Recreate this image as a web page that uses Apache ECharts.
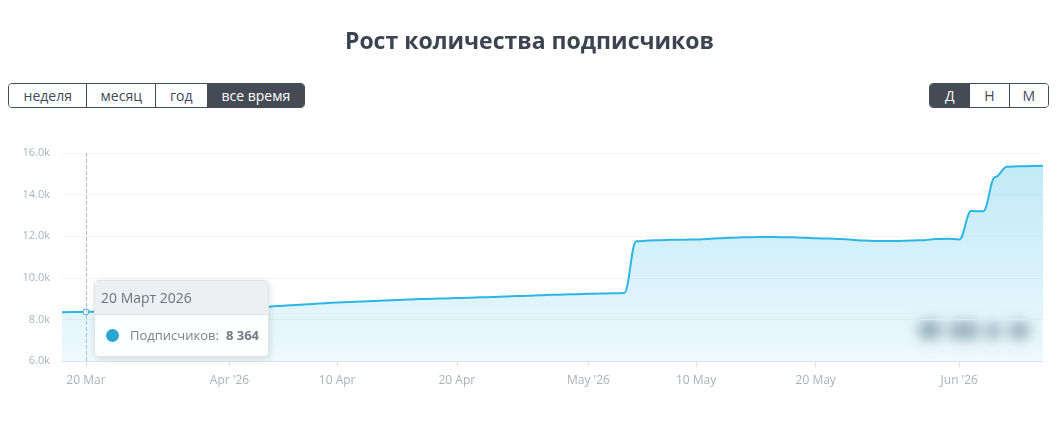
<!DOCTYPE html>
<html>
<head>
<meta charset="utf-8">
<script src="https://cdn.jsdelivr.net/npm/echarts@6/dist/echarts.min.js"></script>
<style>
  html, body { margin: 0; padding: 0; background: #fff; }
  #wrap { position: relative; width: 1059px; height: 422px; }
  #chart { position: absolute; left: 0; top: 0; width: 1059px; height: 422px; }
  .btn-group {
    position: absolute;
    top: 83px;
    display: flex;
    height: 25px;
    border: 1px solid #454b55;
    border-radius: 4px;
    overflow: hidden;
    box-sizing: border-box;
    z-index: 2;
    font-family: 'Open Sans', sans-serif;
    font-size: 14px;
  }
  .btn-group span {
    display: flex;
    align-items: center;
    justify-content: center;
    color: #3f4a5a;
    background: #fff;
    border-left: 1px solid #454b55;
    box-sizing: border-box;
  }
  .btn-group span:first-child { border-left: none; }
  .btn-group span.active { background: #454b55; color: #fff; }
</style>
</head>
<body>
<div id="wrap">
  <div id="chart"></div>
  <div class="btn-group" style="left:8px;width:297px">
    <span style="width:78px">неделя</span>
    <span style="width:69px">месяц</span>
    <span style="width:52px">год</span>
    <span class="active" style="width:98px">все время</span>
  </div>
  <div class="btn-group" style="left:929px;width:120px">
    <span class="active" style="width:40px">Д</span>
    <span style="width:40px">Н</span>
    <span style="width:40px">М</span>
  </div>
</div>
<script>
// first day of the series, one point per day
const startDay = '2026-03-18'
const subscribers = [
  // Mar 18 - Mar 31
  8340, 8352, 8364, 8380, 8395, 8410, 8425, 8440, 8452, 8466, 8480, 8495, 8510, 8525,
  // Apr
  8540, 8560, 8585, 8608, 8640, 8675, 8710, 8745, 8780, 8810, 8835, 8860, 8880, 8905, 8930,
  8955, 8975, 8995, 9010, 9025, 9040, 9060, 9080, 9100, 9120, 9140, 9160, 9180, 9200, 9215,
  // May
  9230, 9240, 9255, 9270, 11760, 11790, 11810, 11825, 11835, 11845, 11870, 11900, 11930, 11950, 11957,
  11960, 11955, 11945, 11925, 11900, 11890, 11870, 11830, 11790, 11765, 11765, 11775, 11790, 11810, 11860, 11880,
  // Jun 1 - Jun 8
  11840, 13210, 13200, 14850, 15340, 15360, 15375, 15386
]
const tickDays = ['2026-03-20', '2026-04-01', '2026-04-10', '2026-04-20', '2026-05-01', '2026-05-10', '2026-05-20', '2026-06-01']
const tickLabels = ['20 Mar', "Apr '26", '10 Apr', '20 Apr', "May '26", '10 May', '20 May', "Jun '26"]
const ruMonths = ['Январь', 'Февраль', 'Март', 'Апрель', 'Май', 'Июнь', 'Июль', 'Август', 'Сентябрь', 'Октябрь', 'Ноябрь', 'Декабрь']
const yMin = 6000
const yMax = 16000
const yStep = 2000
const hoverIndex = 2
const seriesName = 'Подписчиков'

const DAY = 86400000
function dayTs(s) {
  const [y, m, d] = s.split('-').map(Number)
  return Date.UTC(y, m - 1, d)
}
const t0 = dayTs(startDay)
const points = subscribers.map((v, i) => [t0 + i * DAY, v])
const tickValues = tickDays.map(dayTs)

function fmtNum(v) {
  return String(v).replace(/\B(?=(\d{3})+(?!\d))/g, ' ')
}

// blurred blob for the watermark: shape is drawn off-screen, only its shadow lands in view
const OFF = 3000
function blob(x, y, w, h, alpha) {
  return {
    type: 'rect',
    shape: { x: x - OFF, y, width: w, height: h, r: Math.min(w, h) / 2 },
    style: { fill: '#000', shadowBlur: 13, shadowOffsetX: OFF, shadowColor: 'rgba(110,125,135,' + alpha + ')' }
  }
}

const lineColor = '#29a6d1'
const font = "'Open Sans', sans-serif"
const chart = echarts.init(document.getElementById('chart'))

chart.setOption({
  animation: false,
  textStyle: { fontFamily: font },
  title: {
    text: 'Рост количества подписчиков',
    left: 'center',
    top: 26,
    textStyle: { fontFamily: font, fontSize: 23, fontWeight: 'bold', color: '#3d4451' }
  },
  grid: { left: 62, right: 16, top: 153, bottom: 61 },
  tooltip: {
    trigger: 'axis',
    triggerOn: 'none',
    alwaysShowContent: true,
    padding: 0,
    backgroundColor: 'rgba(255,255,255,0.93)',
    borderColor: '#e3e3e3',
    borderWidth: 1,
    extraCssText: 'box-shadow: 1px 2px 6px rgba(0,0,0,0.12); border-radius: 5px; overflow: hidden;',
    position: (pt) => [pt[0] + 8, pt[1] - 32],
    axisPointer: {
      type: 'line',
      label: { show: false },
      lineStyle: { color: '#b5b8bc', type: 'dashed', width: 1 }
    },
    formatter: (params) => {
      const p = params[0]
      const d = new Date(p.value[0])
      const head = d.getUTCDate() + ' ' + ruMonths[d.getUTCMonth()] + ' ' + d.getUTCFullYear()
      return '<div style="width:173px;font-family:' + font.replace(/'/g, '') + '">' +
        '<div style="background:rgba(236,239,241,0.92);border-bottom:1px solid #dde1e4;height:33px;line-height:33px;padding-left:6px;font-size:14px;color:#6c737c">' + head + '</div>' +
        '<div style="height:41px;display:flex;align-items:center;padding-left:11px;font-size:13px;color:#7b838d">' +
        '<span style="display:inline-block;width:13px;height:13px;border-radius:50%;background:' + lineColor + '"></span>' +
        '<span style="margin-left:11px">' + seriesName + ':</span>' +
        '<b style="margin-left:7px;color:#737b85">' + fmtNum(p.value[1]) + '</b></div></div>'
    }
  },
  xAxis: {
    // day timestamps on a value scale so the tick positions can be given explicitly
    type: 'value',
    min: t0,
    max: t0 + (subscribers.length - 1) * DAY,
    axisLine: { lineStyle: { color: '#e0e3e6' } },
    axisTick: { show: true, length: 6, customValues: tickValues, lineStyle: { color: '#e0e3e6' } },
    splitLine: { show: false },
    axisLabel: {
      customValues: tickValues,
      margin: 14,
      fontSize: 12,
      color: '#a9b2bd',
      formatter: (v) => {
        const i = tickValues.indexOf(v)
        return i >= 0 ? tickLabels[i] : ''
      }
    }
  },
  yAxis: {
    type: 'value',
    min: yMin,
    max: yMax,
    interval: yStep,
    axisLine: { show: false },
    axisTick: { show: false },
    splitLine: { lineStyle: { color: '#f3f4f5' } },
    axisLabel: {
      margin: 12,
      fontSize: 11,
      color: '#aab3be',
      formatter: (v) => (v / 1000).toFixed(1) + 'k'
    }
  },
  series: [
    {
      name: seriesName,
      type: 'line',
      data: points,
      smooth: 0.4,
      smoothMonotone: 'x',
      showSymbol: false,
      symbol: 'circle',
      symbolSize: 5,
      itemStyle: { color: '#fff', borderColor: lineColor, borderWidth: 1 },
      lineStyle: { color: lineColor, width: 2 },
      areaStyle: {
        color: new echarts.graphic.LinearGradient(0, 0, 0, 1, [
          { offset: 0, color: 'rgba(41,166,209,0.42)' },
          { offset: 1, color: 'rgba(41,166,209,0.12)' }
        ])
      }
    }
  ],
  graphic: [
    {
      // blurred watermark in the lower right corner
      type: 'group',
      x: 916,
      y: 320,
      silent: true,
      children: [
        { type: 'rect', shape: { x: -2, y: -14, width: 120, height: 40 }, style: { fill: 'rgba(255,255,255,0.18)' } },
        blob(2, 1, 24, 18, 0.7),
        blob(32, 2, 32, 17, 0.65),
        blob(68, 3, 18, 16, 0.6),
        blob(92, 2, 22, 17, 0.65)
      ]
    }
  ]
})

// crosshair tail below the axis, as in the original widget
const px = chart.convertToPixel({ gridIndex: 0 }, points[hoverIndex])
const bottomPx = chart.convertToPixel({ gridIndex: 0 }, [points[hoverIndex][0], yMin])
chart.setOption({
  graphic: [{
    type: 'line',
    z: 1,
    shape: { x1: px[0], y1: bottomPx[1], x2: px[0], y2: bottomPx[1] + 19 },
    style: { stroke: '#b5b8bc', lineDash: [3, 3], lineWidth: 1 }
  }]
})

chart.dispatchAction({ type: 'showTip', seriesIndex: 0, dataIndex: hoverIndex })
</script>
</body>
</html>
